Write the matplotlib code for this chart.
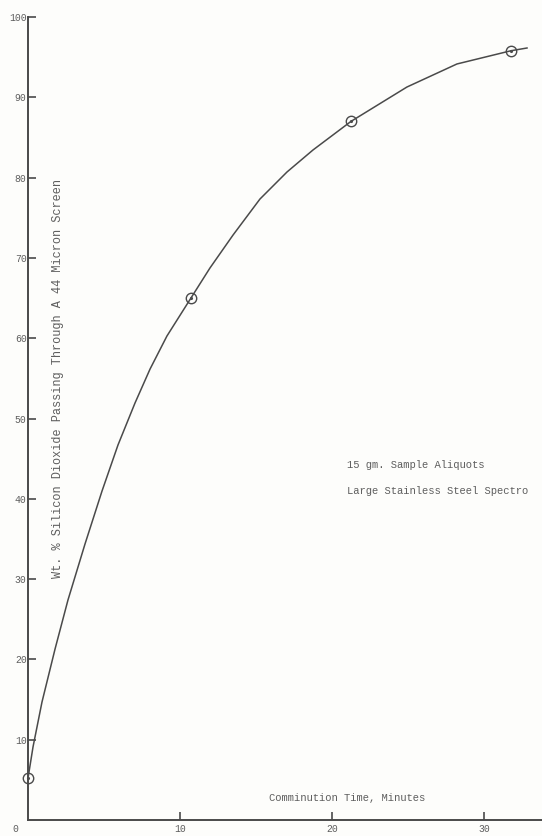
import numpy as np
import matplotlib.pyplot as plt

# measured points (comminution time, min / wt % SiO2 through 44 micron)
time_pts = [0.0, 10.72, 21.25, 31.78]
pct_pts = [5.2, 65.0, 87.0, 95.8]

# hand-drawn curve
curve_t = [0.0, 0.33, 0.92, 1.78, 2.63, 3.75, 4.87, 5.92, 7.04, 8.03, 9.14,
           10.72, 11.97, 13.49, 15.26, 17.04, 18.75, 21.25, 24.93, 28.22,
           31.78, 32.83]
curve_y = [5.2, 9.1, 14.69, 21.30, 27.40, 34.37, 40.97, 46.70, 51.93, 56.16,
           60.27, 65.0, 68.74, 72.85, 77.33, 80.70, 83.44, 87.0, 91.28, 94.15,
           95.8, 96.14]

y_ticks = [10, 20, 30, 40, 50, 60, 70, 80, 90, 100]
x_ticks = [10, 20, 30]

ink = "#4a4a4a"
txt = "#5e5e5e"
mono = "Liberation Mono"


def main():
    fig = plt.figure(figsize=(5.42, 8.36), dpi=100, facecolor="#fdfdfb")
    W, H = 542, 836
    left, right, top, bottom = 28, 542, 17, 820
    ax = fig.add_axes([left / W, (H - bottom) / H, (right - left) / W, (bottom - top) / H])
    ax.set_facecolor("#fdfdfb")

    ax.plot(curve_t, curve_y, color=ink, lw=1.1, clip_on=False)
    ax.plot(time_pts, pct_pts, "o", ms=7.5, mfc="none", mec=ink, mew=1.0, clip_on=False)
    ax.plot(time_pts, pct_pts, ".", ms=2.5, color=ink, clip_on=False)

    ax.set_xlim(0, (right - left) / 15.2)
    ax.set_ylim(0, 100)
    ax.spines["top"].set_visible(False)
    ax.spines["right"].set_visible(False)
    for s in ("left", "bottom"):
        ax.spines[s].set_color(ink)
        ax.spines[s].set_linewidth(1.4)

    ax.set_xticks(x_ticks)
    ax.set_yticks(y_ticks)
    ax.set_xticklabels([str(t) for t in x_ticks], fontfamily=mono, fontsize=7, color=txt)
    ax.set_yticklabels([str(t) for t in y_ticks], fontfamily=mono, fontsize=7, color=txt)
    ax.tick_params(direction="in", length=6, width=1.2, color=ink)
    ax.tick_params(axis="y", pad=1)
    ax.tick_params(axis="x", pad=3)

    fig.text(15 / W, 1 - 829 / H, "0", fontfamily=mono, fontsize=7, color=txt,
             ha="center", va="center")

    fig.text(58 / W, 1 - 378 / H, "Wt. % Silicon Dioxide Passing Through A 44 Micron Screen",
             fontfamily=mono, fontsize=8.6, color=txt, rotation=90,
             ha="center", va="center")
    fig.text(347 / W, 1 - 465 / H, "15 gm. Sample Aliquots",
             fontfamily=mono, fontsize=7.6, color=txt, ha="left", va="center")
    fig.text(347 / W, 1 - 491 / H, "Large Stainless Steel Spectro",
             fontfamily=mono, fontsize=7.6, color=txt, ha="left", va="center")
    fig.text(347 / W, 1 - 798 / H, "Comminution Time, Minutes",
             fontfamily=mono, fontsize=7.6, color=txt, ha="center", va="center")

    fig.savefig("out.png", dpi=100, facecolor=fig.get_facecolor())


if __name__ == "__main__":
    main()
